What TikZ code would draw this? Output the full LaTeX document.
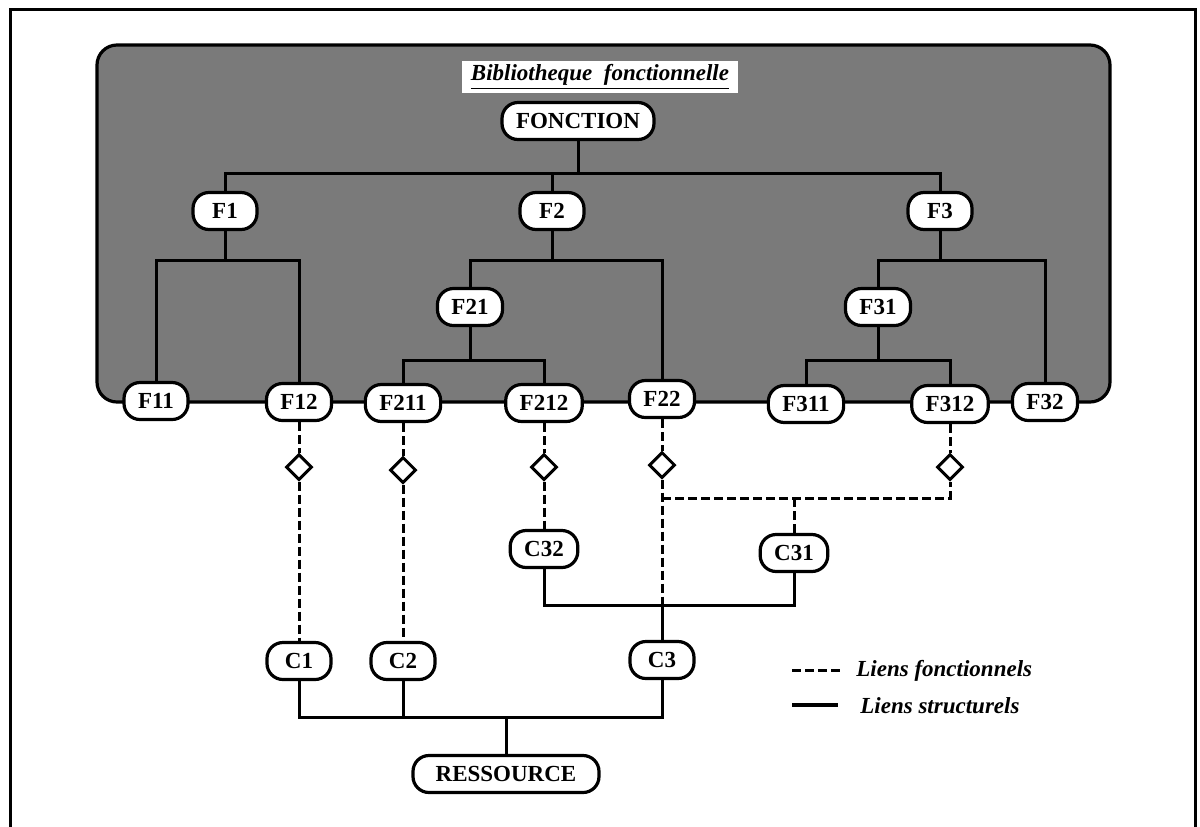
\documentclass[tikz,border=0pt]{standalone}
\usepackage{fontspec}
\setmainfont{Liberation Serif}
\usetikzlibrary{shapes.geometric}
\begin{document}
\begin{tikzpicture}[x=0.5pt,y=-0.5pt,
  box/.style={draw, line width=1.6pt, fill=white, rounded corners=8pt, minimum width=32pt, minimum height=18.5pt, inner xsep=7pt, inner ysep=0pt, font=\fontsize{11.5}{12}\selectfont\bfseries},
  sl/.style={line width=1.5pt},
  dl/.style={line width=1.5pt, dash pattern=on 4.5pt off 2pt},
  dia/.style={draw, diamond, line width=1.5pt, fill=white, minimum width=13pt, minimum height=13pt, inner sep=0pt},
  lgd/.style={anchor=west, inner sep=0pt, font=\fontsize{11.5}{12}\selectfont\bfseries\itshape},
]
\useasboundingbox (0,0) rectangle (1200,826);
% outer frame
\draw[line width=1.5pt] (10,830) -- (10,9) -- (1195,9) -- (1195,830);
% functional library area
\draw[line width=1.6pt, fill=black!52, rounded corners=10pt] (97,45) rectangle (1110,402);
\node[fill=white, inner xsep=4.5pt, inner ysep=1.5pt, font=\fontsize{11.5}{12}\selectfont\bfseries\itshape] (title) at (600,77) {\underline{Bibliotheque\ \ fonctionnelle}};

% levels
\coordinate (y1) at (0,173);
\coordinate (y2) at (0,260);
\coordinate (y3) at (0,360);
\coordinate (yd) at (0,498);
\coordinate (yc) at (0,605);
\coordinate (yr) at (0,717);

% nodes
\node[box] (FONCTION) at (578,121) {FONCTION};
\node[box] (F1) at (225,211) {F1};
\node[box] (F2) at (552,211) {F2};
\node[box] (F3) at (940,211) {F3};
\node[box] (F21) at (470,307) {F21};
\node[box] (F31) at (878,307) {F31};
\node[box] (F11) at (156,401) {F11};
\node[box] (F12) at (299,402) {F12};
\node[box] (F211) at (403,403) {F211};
\node[box] (F212) at (544,403) {F212};
\node[box] (F22) at (662,399) {F22};
\node[box] (F311) at (806,404) {F311};
\node[box] (F312) at (950,404) {F312};
\node[box] (F32) at (1045,402) {F32};

\node[dia] (d1) at (299,467) {};
\node[dia] (d2) at (403,470) {};
\node[dia] (d3) at (544,467) {};
\node[dia] (d4) at (662,465) {};
\node[dia] (d5) at (950,467) {};

\node[box] (C32) at (544,549) {C32};
\node[box] (C31) at (794,553) {C31};
\node[box] (C1) at (299,661) {C1};
\node[box] (C2) at (403,661) {C2};
\node[box] (C3) at (662,660) {C3};
\node[box, minimum width=93pt] (RESSOURCE) at (506,774) {RESSOURCE};

% structural links in library
\draw[sl] (FONCTION.south) -- (FONCTION |- y1);
\draw[sl] (F1.north) -- (F1 |- y1) -- (F3 |- y1) -- (F3.north);
\draw[sl] (F2.north) -- (F2 |- y1);
\draw[sl] (F1.south) -- (F1 |- y2);
\draw[sl] (F11.north) -- (F11 |- y2) -- (F12 |- y2) -- (F12.north);
\draw[sl] (F2.south) -- (F2 |- y2);
\draw[sl] (F21.north) -- (F21 |- y2) -- (F22 |- y2) -- (F22.north);
\draw[sl] (F21.south) -- (F21 |- y3);
\draw[sl] (F211.north) -- (F211 |- y3) -- (F212 |- y3) -- (F212.north);
\draw[sl] (F3.south) -- (F3 |- y2);
\draw[sl] (F31.north) -- (F31 |- y2) -- (F32 |- y2) -- (F32.north);
\draw[sl] (F31.south) -- (F31 |- y3);
\draw[sl] (F311.north) -- (F311 |- y3) -- (F312 |- y3) -- (F312.north);

% functional links
\draw[dl] (F12.south) -- (d1.north);
\draw[dl] (d1.south) -- (C1.north);
\draw[dl] (F211.south) -- (d2.north);
\draw[dl] (d2.south) -- (C2.north);
\draw[dl] (F212.south) -- (d3.north);
\draw[dl] (d3.south) -- (C32.north);
\draw[dl] (F22.south) -- (d4.north);
\draw[dl] (d4.south) -- (d4 |- yc);
\draw[dl] (F312.south) -- (d5.north);
\draw[dl] (d4 |- yd) -- (d5 |- yd) -- (d5.south);
\draw[dl] (C31 |- yd) -- (C31.north);

% structural links below
\draw[sl] (C32.south) -- (C32 |- yc) -- (C31 |- yc) -- (C31.south);
\draw[sl] (C3.north) -- (C3 |- yc);
\draw[sl] (C1.south) -- (C1 |- yr) -- (C3 |- yr) -- (C3.south);
\draw[sl] (C2.south) -- (C2 |- yr);
\draw[sl] (RESSOURCE.north) -- (RESSOURCE |- yr);

% legend
\coordinate (la) at (792,670);
\coordinate (lb) at (843,670);
\coordinate (lc) at (792,705);
\coordinate (ld) at (838,705);
\draw[dl] (la) -- (lb);
\draw[line width=2pt] (lc) -- (ld);
\node[lgd] (lf) at (856,671) {Liens fonctionnels};
\node[lgd] (ls) at (860,706) {Liens structurels};
\end{tikzpicture}
\end{document}
